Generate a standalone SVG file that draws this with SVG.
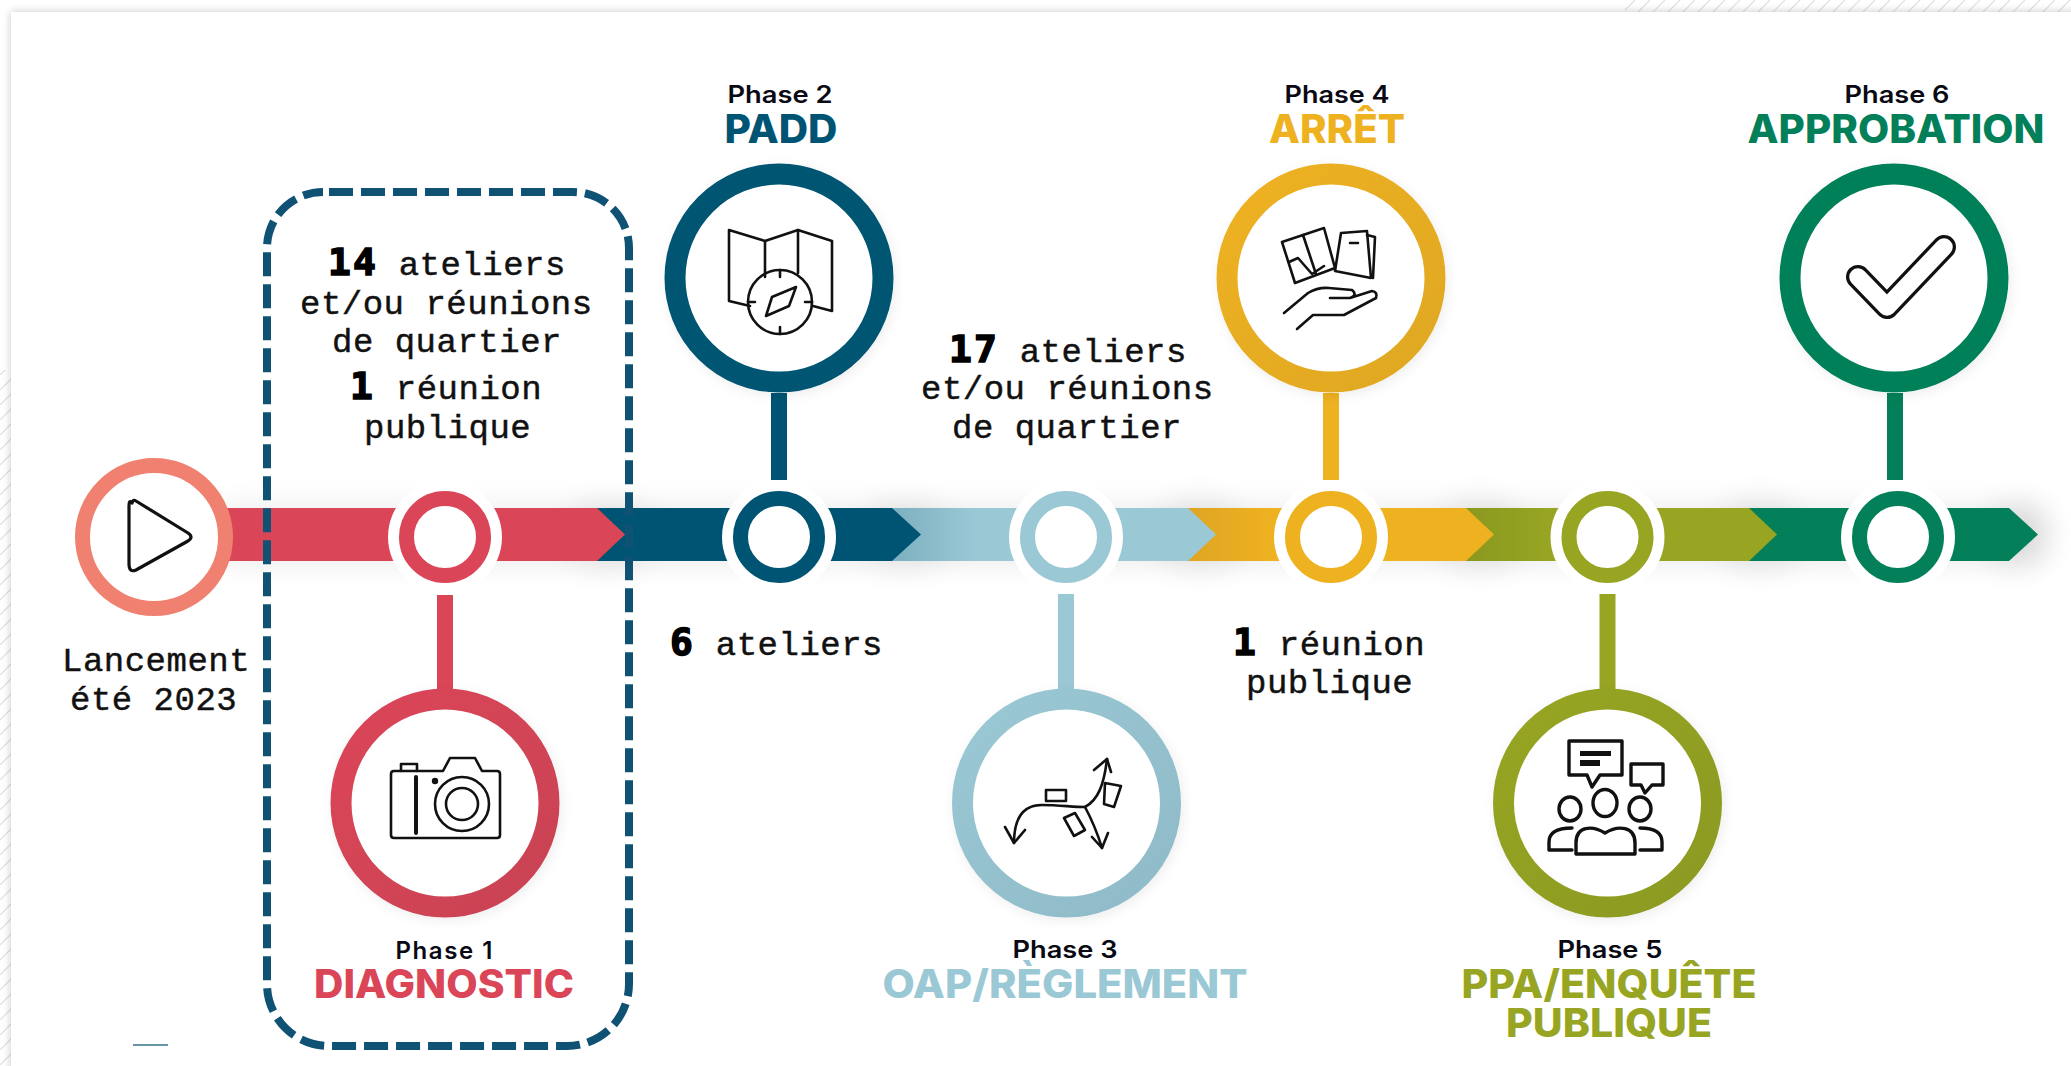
<svg xmlns="http://www.w3.org/2000/svg" width="2071" height="1066" viewBox="0 0 2071 1066">
<style>
.m{font-family:"Liberation Mono",monospace;font-size:34px;letter-spacing:.5px;fill:#111;stroke:#111;stroke-width:.45px}
.n{font-family:"DejaVu Sans Mono",monospace;font-weight:700;font-size:38px;letter-spacing:2px;fill:#000;stroke:#000;stroke-width:1.5px}
.p{font-family:Inter,"Liberation Sans",sans-serif;font-weight:600;font-size:24px;text-anchor:middle;fill:#0a0a14}
.t{font-family:Inter,"Liberation Sans",sans-serif;font-weight:800;font-size:39px;text-anchor:middle}
.ic{fill:none;stroke:#111;stroke-width:2.6;stroke-linejoin:round;stroke-linecap:round}
.ring{fill:#fff;stroke-width:21;filter:url(#soft)}
.halo{fill:#fff}
.dot{fill:#fff;stroke-width:15}
.stem{stroke-width:16;fill:none}
</style>
<defs>
<pattern id="hatch" patternUnits="userSpaceOnUse" width="15" height="15"><path d="M-2 17L17 -2" stroke="#dedede" stroke-width="1.2"/></pattern>
<filter id="card" x="-5%" y="-5%" width="110%" height="110%"><feDropShadow dx="0" dy="0" stdDeviation="4" flood-color="#000" flood-opacity=".22"/></filter>
<filter id="soft" x="-20%" y="-20%" width="140%" height="140%"><feDropShadow dx="2" dy="3" stdDeviation="6" flood-color="#000" flood-opacity=".07"/></filter>
<filter id="blur" x="-30%" y="-100%" width="160%" height="300%"><feGaussianBlur stdDeviation="15"/></filter>
<linearGradient id="gb" gradientUnits="userSpaceOnUse" x1="892" y1="0" x2="975" y2="0"><stop offset="0" stop-color="#7cafc0"/><stop offset="1" stop-color="#9bc8d5"/></linearGradient>
<linearGradient id="gy" gradientUnits="userSpaceOnUse" x1="1188" y1="0" x2="1270" y2="0"><stop offset="0" stop-color="#dfa524"/><stop offset="1" stop-color="#eeb120"/></linearGradient>
<linearGradient id="go" gradientUnits="userSpaceOnUse" x1="1466" y1="0" x2="1550" y2="0"><stop offset="0" stop-color="#8a981f"/><stop offset="1" stop-color="#97a523"/></linearGradient>
<linearGradient id="r1" x1="0" y1="0" x2="1" y2="1"><stop offset="0" stop-color="#db4558"/><stop offset="1" stop-color="#c94354"/></linearGradient>
<linearGradient id="r3" x1="0" y1="0" x2="1" y2="1"><stop offset="0" stop-color="#9bc8d5"/><stop offset="1" stop-color="#8fbac7"/></linearGradient>
<linearGradient id="r4" x1="0" y1="0" x2="1" y2="1"><stop offset="0" stop-color="#eeb120"/><stop offset="1" stop-color="#dfa824"/></linearGradient>
<linearGradient id="r5" x1="0" y1="0" x2="1" y2="1"><stop offset="0" stop-color="#97a523"/><stop offset="1" stop-color="#8b9a20"/></linearGradient>
</defs>
<rect width="2071" height="1066" fill="#fff"/>
<rect x="0" y="370" width="14" height="696" fill="url(#hatch)"/>
<rect x="1625" y="0" width="446" height="14" fill="url(#hatch)"/>
<rect x="11" y="12" width="2100" height="1100" fill="#fff" filter="url(#card)"/>

<g id="shadows" fill="#000">
<rect x="220" y="508" width="1820" height="54" opacity=".09" filter="url(#blur)"/>
<ellipse cx="610" cy="534" rx="45" ry="38" opacity=".05" filter="url(#blur)"/>
<ellipse cx="905" cy="534" rx="45" ry="38" opacity=".05" filter="url(#blur)"/>
<ellipse cx="1200" cy="534" rx="45" ry="38" opacity=".06" filter="url(#blur)"/>
<ellipse cx="1480" cy="534" rx="45" ry="38" opacity=".06" filter="url(#blur)"/>
<ellipse cx="1760" cy="534" rx="45" ry="38" opacity=".06" filter="url(#blur)"/>
<ellipse cx="2018" cy="534" rx="35" ry="34" opacity=".07" filter="url(#blur)"/>
</g>

<g id="timeline">
<path d="M1740 508H2009L2038 534.5L2009 561H1740Z" fill="#038059"/>
<path d="M1460 508H1749L1777 534.5L1749 561H1460Z" fill="url(#go)"/>
<path d="M1180 508H1466L1494 534.5L1466 561H1180Z" fill="url(#gy)"/>
<path d="M885 508H1188L1216 534.5L1188 561H885Z" fill="url(#gb)"/>
<path d="M590 508H892L921 534.5L892 561H590Z" fill="#005473"/>
<path d="M225 508H597L625 534.5L597 561H225Z" fill="#db4558"/>
</g>

<g id="connectors">
<path class="stem" d="M445 595V690" stroke="#db4558"/>
<path class="stem" d="M779 393V480" stroke="#005473"/>
<path class="stem" d="M1066 594V690" stroke="#9bc8d5"/>
<path class="stem" d="M1331 393V480" stroke="#eeb120"/>
<path class="stem" d="M1607.500 594V690" stroke="#97a523"/>
<path class="stem" d="M1895 393V480" stroke="#038059"/>
</g>

<g id="start">
<circle cx="154" cy="537" r="71.500" fill="#fff" stroke="#f08170" stroke-width="15"/>
<path d="M132 503Q129 499 129 506V564Q129 573 136 570L188 541Q194 537 188 533L136 501Q133 499 132 503Z" fill="none" stroke="#111" stroke-width="3.200" stroke-linejoin="round"/>
<text class="m" x="62" y="671">Lancement</text>
<text class="m" x="70" y="710">été 2023</text>
</g>

<g id="phase1">
<circle cx="445" cy="537" r="57" class="halo"/>
<circle cx="445" cy="537" r="38.500" class="dot" stroke="#db4558"/>
<circle cx="445" cy="803" r="104" class="ring" stroke="url(#r1)"/>
<g class="ic">
<path d="M394 771H443L450 758H475L482 771H497Q500 771 500 774V835Q500 838 497 838H394Q391 838 391 835V774Q391 771 394 771Z"/>
<path d="M401 771V764H417V771"/>
<path d="M416 777V833" stroke-width="4"/>
<circle cx="462" cy="804" r="27"/><circle cx="462" cy="804" r="16"/>
</g>
<circle cx="435" cy="781" r="3.200" fill="#111"/>
<text class="p" x="444" y="959" textLength="97">Phase 1</text>
<text class="t" x="444" y="998" fill="#db4558" textLength="260" lengthAdjust="spacingAndGlyphs">DIAGNOSTIC</text>
<text class="m" x="328" y="275"><tspan class="n">14</tspan> ateliers</text>
<text class="m" x="300" y="314">et/ou réunions</text>
<text class="m" x="332" y="352">de quartier</text>
<text class="m" x="350" y="399"><tspan class="n">1</tspan> réunion</text>
<text class="m" x="364" y="438">publique</text>
</g>

<g id="phase2">
<circle cx="779" cy="537" r="57" class="halo"/>
<circle cx="779" cy="537" r="38.500" class="dot" stroke="#005473"/>
<circle cx="779" cy="278" r="104" class="ring" stroke="#005473"/>
<g class="ic">
<path d="M750 306L729 301V230L765 241L798 230L832 241V311L813 306"/>
<path d="M765 241V277M798 230V273"/>
<circle cx="780" cy="302" r="32"/>
<path d="M796 287L789 306L766 316L772 297Z"/>
<path d="M780 270V277M780 327V334M748 302H755M805 302H812"/>
</g>
<text class="p" x="780" y="103" textLength="105" lengthAdjust="spacingAndGlyphs">Phase 2</text>
<text class="t" x="781" y="143" fill="#005473" textLength="113" lengthAdjust="spacingAndGlyphs">PADD</text>
<text class="m" x="670" y="655"><tspan class="n">6</tspan> ateliers</text>
</g>

<g id="phase3">
<circle cx="1066" cy="537" r="57" class="halo"/>
<circle cx="1066" cy="537" r="38.500" class="dot" stroke="#9bc8d5"/>
<circle cx="1066.500" cy="803" r="104" class="ring" stroke="url(#r3)"/>
<g class="ic" stroke-width="2.300">
<path d="M1014 843C1014 815 1025 805 1042 805C1060 805 1072 807 1085 807C1098 800 1104 785 1107 759"/>
<path d="M1085 807C1092 820 1098 835 1102 848"/>
<path d="M1094 770L1107 759L1111 772M1005 827L1014 843L1025 830M1108 833L1102 848L1092 837"/>
<path d="M1046 790H1066V801H1046ZM1105 783L1121 786L1114 807L1104 804ZM1064 818L1075 813L1085 830L1074 836Z"/>
</g>
<text class="p" x="1065" y="958" textLength="105" lengthAdjust="spacingAndGlyphs">Phase 3</text>
<text class="t" x="1065" y="998" fill="#9bc8d5" textLength="365" lengthAdjust="spacingAndGlyphs">OAP/RÈGLEMENT</text>
<text class="m" x="949" y="362"><tspan class="n">17</tspan> ateliers</text>
<text class="m" x="921" y="399">et/ou réunions</text>
<text class="m" x="952" y="438">de quartier</text>
</g>

<g id="phase4">
<circle cx="1331" cy="537" r="57" class="halo"/>
<circle cx="1331" cy="537" r="38.500" class="dot" stroke="#eeb120"/>
<circle cx="1331" cy="278" r="104" class="ring" stroke="url(#r4)"/>
<g class="ic" stroke-width="2.300">
<path d="M1282 242L1303 235L1324 228L1335 268L1295 283Z"/>
<path d="M1303 235L1316 274M1289 262L1298 258L1312 274L1324 266"/>
<path d="M1341 233L1367 231L1371 278L1335 271Z"/>
<path d="M1367 235L1375 237L1373 278M1350 243H1358"/>
<path d="M1284 313L1308 293Q1318 287 1329 288L1352 290Q1358 295 1350 298L1330 298M1350 298L1372 291Q1378 292 1376 298L1344 315H1313L1297 329"/>
</g>
<text class="p" x="1337" y="103" textLength="105" lengthAdjust="spacingAndGlyphs">Phase 4</text>
<text class="t" x="1337" y="143" fill="#eeb120" textLength="136" lengthAdjust="spacingAndGlyphs">ARRÊT</text>
<text class="m" x="1233" y="655"><tspan class="n">1</tspan> réunion</text>
<text class="m" x="1246" y="693">publique</text>
</g>

<g id="phase5">
<circle cx="1607.500" cy="537" r="57" class="halo"/>
<circle cx="1607.500" cy="537" r="38.500" class="dot" stroke="#97a523"/>
<circle cx="1607.500" cy="803" r="104" class="ring" stroke="url(#r5)"/>
<g class="ic" style="stroke-width:3.400">
<path d="M1569 741H1622V775H1600L1592 787L1587 775H1569Z"/>
<path d="M1631 764H1663V785H1652L1645 793L1641 785H1631Z"/>
<ellipse cx="1605" cy="803" rx="12" ry="13.500"/><ellipse cx="1570" cy="809" rx="11" ry="12"/><ellipse cx="1640" cy="809" rx="11" ry="12"/>
<path d="M1576 854V843C1576 826 1592 825 1605 833C1618 825 1635 826 1635 843V854Z"/>
<path d="M1572 828C1558 828 1549 832 1549 842V850H1572M1640 828C1654 828 1662 832 1662 842V850H1640"/>
</g>
<path d="M1580 751H1611V756H1580ZM1580 760H1600V766H1580Z" fill="#111"/>
<text class="p" x="1610" y="958" textLength="105" lengthAdjust="spacingAndGlyphs">Phase 5</text>
<text class="t" x="1609" y="998" fill="#97a523" textLength="295" lengthAdjust="spacingAndGlyphs">PPA/ENQUÊTE</text>
<text class="t" x="1609" y="1037" fill="#97a523" textLength="206" lengthAdjust="spacingAndGlyphs">PUBLIQUE</text>
</g>

<g id="phase6">
<circle cx="1898" cy="537" r="57" class="halo"/>
<circle cx="1898" cy="537" r="38.500" class="dot" stroke="#038059"/>
<circle cx="1894" cy="278" r="104" class="ring" stroke="#038059"/>
<path d="M1858 277L1887 307L1944 247" fill="none" stroke="#111" stroke-width="24" stroke-linecap="round" stroke-linejoin="round"/>
<path d="M1858 277L1887 307L1944 247" fill="none" stroke="#fff" stroke-width="17.500" stroke-linecap="round" stroke-linejoin="round"/>
<text class="p" x="1897" y="103" textLength="105" lengthAdjust="spacingAndGlyphs">Phase 6</text>
<text class="t" x="1896" y="143" fill="#038059" textLength="297" lengthAdjust="spacingAndGlyphs">APPROBATION</text>
</g>

<g id="highlight">
<path d="M323 192H573A56 56 0 0 1 629 248V984A62 62 0 0 1 567 1046H329A62 62 0 0 1 267 984V248A56 56 0 0 1 323 192Z" fill="none" stroke="#0f5273" stroke-width="8" stroke-dasharray="24 8" stroke-dashoffset="-6"/>
</g>
<path id="sliver" d="M133 1045H168" fill="none" stroke="#3f7b90" stroke-width="2" opacity=".8"/>
</svg>
